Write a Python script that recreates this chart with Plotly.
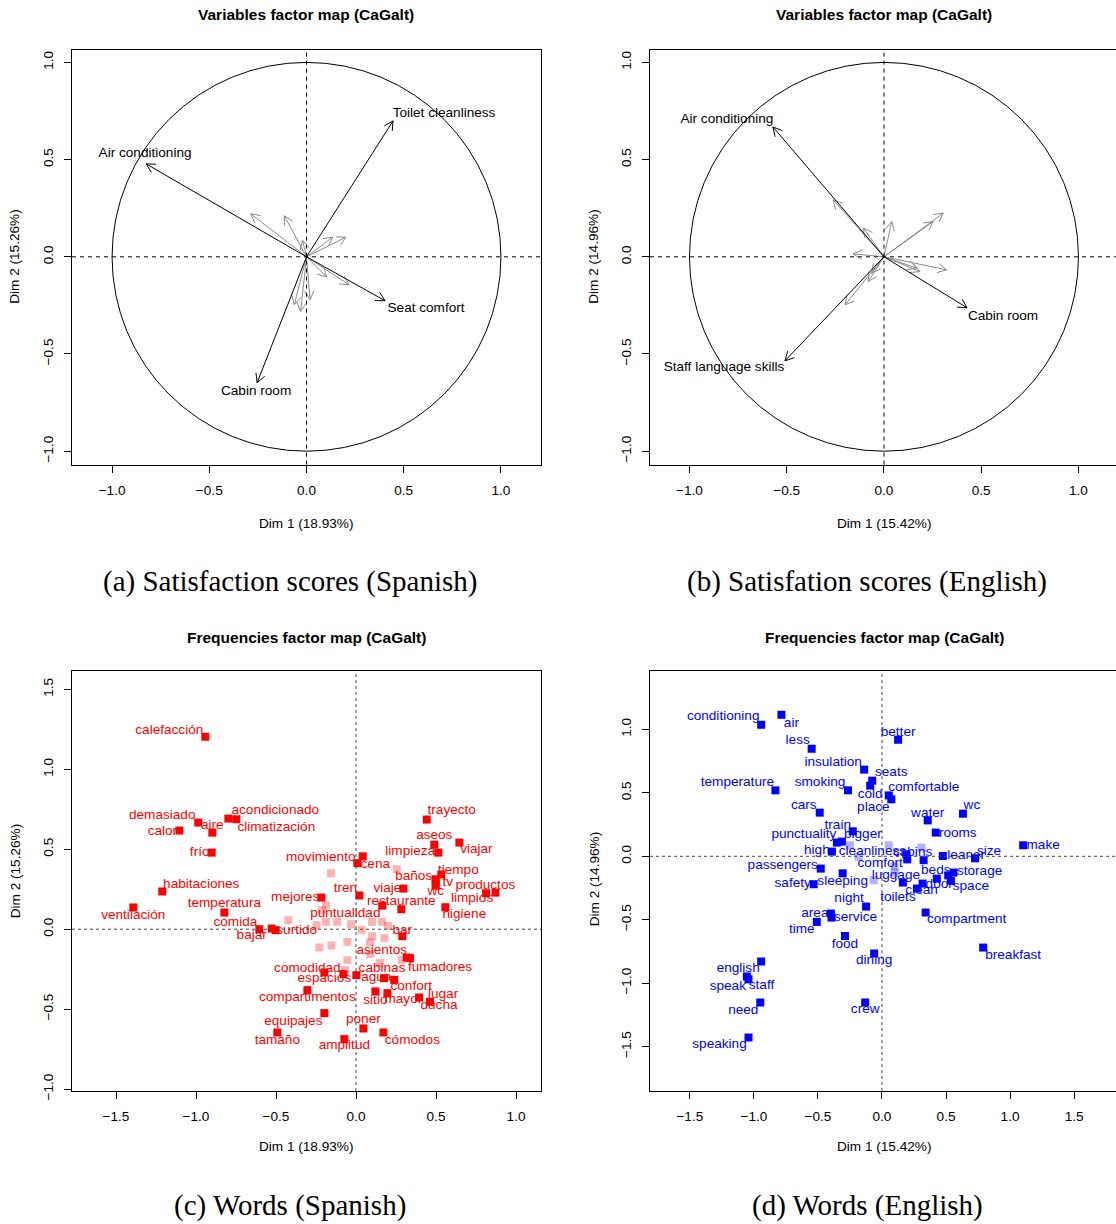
import math
import plotly.graph_objects as go

W, H = 1116, 1224
K = 0.9935  # observed vertical compression of the rendered page

# ---------------- Panel (a): Variables factor map, Spanish ----------------
a_main_labels = ["Air conditioning", "Toilet cleanliness", "Seat comfort", "Cabin room"]
a_main_x = [-0.825, 0.445, 0.404, -0.254]
a_main_y = [0.478, 0.699, -0.226, -0.648]
a_lab_dx = [-1, 51, 41, -1]
a_lab_dy = [10, 7, -8, -9]
a_minor_x = [-0.287, -0.114, -0.020, 0.135, 0.203, 0.104, 0.219, -0.063, -0.030, 0.018]
a_minor_y = [0.221, 0.211, 0.084, 0.101, 0.101, -0.104, -0.144, -0.247, -0.281, -0.221]

# ---------------- Panel (b): Variables factor map, English ----------------
b_main_labels = ["Air conditioning", "Cabin room", "Staff language skills"]
b_main_x = [-0.571, 0.427, -0.509]
b_main_y = [0.668, -0.262, -0.535]
b_lab_dx = [-46, 36, -61]
b_lab_dy = [7, -9, -7]
b_minor_x = [-0.261, -0.106, 0.040, 0.305, 0.253, -0.158, 0.322, 0.185, 0.168, -0.081, -0.200, -0.063]
b_minor_y = [0.293, 0.148, 0.181, 0.225, 0.181, 0.015, -0.067, -0.076, -0.058, -0.127, -0.247, -0.084]

# ---------------- Panel (c): Words, Spanish ----------------
c_words = ["calefacción", "demasiado", "calor", "aire", "acondicionado", "climatización", "frío",
           "habitaciones", "ventilación", "temperatura", "comida", "bajar", "surtido", "mejores",
           "movimiento", "cena", "tren", "puntualidad", "viaje", "restaurante", "bar", "trayecto",
           "aseos", "viajar", "limpieza", "baños", "tiempo", "tv", "wc", "productos", "limpios",
           "higiene", "asientos", "fumadores", "cabinas", "agua", "confort", "comodidad", "espacios",
           "compartimentos", "sitio", "mayor", "lugar", "ducha", "equipajes", "poner", "tamaño",
           "amplitud", "cómodos"]
c_x = [-0.942, -0.986, -1.104, -0.898, -0.798, -0.748, -0.902,
       -1.211, -1.392, -0.823, -0.604, -0.527, -0.502, -0.217,
       0.042, 0.008, 0.021, 0.283, 0.296, 0.164, 0.289, 0.442,
       0.489, 0.646, 0.514, 0.498, 0.533, 0.498, 0.498, 0.871, 0.8125,
       0.558, 0.317, 0.3375, 0.175, 0.002, 0.239, -0.198, -0.079,
       -0.304, 0.121, 0.196, 0.394, 0.4625, -0.198, 0.046, -0.492,
       -0.073, 0.171]
c_y = [1.204, 0.667, 0.617, 0.604, 0.692, 0.688, 0.479,
       0.236, 0.136, 0.104, 0.000, 0.004, -0.006, 0.198,
       0.456, 0.413, 0.211, 0.125, 0.254, 0.148, -0.044, 0.686,
       0.529, 0.542, 0.479, 0.3125, 0.342, 0.2875, 0.272, 0.229, 0.225,
       0.1375, -0.177, -0.181, -0.306, -0.2875, -0.317, -0.271, -0.281,
       -0.381, -0.389, -0.400, -0.427, -0.454, -0.525, -0.621, -0.646,
       -0.6875, -0.646]
c_lab_dx = [-36, -36, -17, 0, 47, 40, -12,
            39, 0, 0, -24, -20, 21, -26,
            -42, 18, -14, -56, -16, 19, 0, 25,
            0, 17, -28, -22, 17, 12, 0, -10, -14,
            19, -25, 30, -2, 20, 17, -17, -19,
            0, 0, 16, 24, 9, -31, 0, 0,
            0, 29]
c_lab_dy = [6, 7, -1, 7, 8, -8, 0,
            7, -8, 9, 7, -7, 0, 0,
            -1, -1, 7, -4, 0, 4, 6, 9,
            9, -7, 1, 3, 4, 1, -6, 7, -5,
            -7, 7, -9, 10, -2, -7, 4, -4,
            -8, -9, -6, 3, -4, -8, 9, -8,
            -7, -8]
c_faint_x = [-0.156, 0.254, -0.1875, -0.2125, -0.423, -0.246, -0.189, -0.117, -0.031, 0.036,
             0.100, 0.1625, 0.200, 0.100, 0.177, 0.0875, -0.229, -0.154, -0.054, -0.054,
             0.0875, 0.150, 0.286, -0.069]
c_faint_y = [0.350, 0.375, 0.150, 0.119, 0.056, 0.025, 0.046, 0.046, 0.031, -0.004,
             0.046, 0.046, 0.021, -0.044, -0.056, -0.083, -0.114, -0.102, -0.079, -0.194,
             -0.156, -0.2125, -0.192, -0.256]

# ---------------- Panel (d): Words, English ----------------
d_words = ["conditioning", "air", "less", "better", "insulation", "seats", "temperature", "smoking",
           "cold", "comfortable", "place", "cars", "water", "wc", "rooms", "train", "punctuality",
           "bigger", "high", "cleanliness", "cabins", "comfort", "cleaner", "size", "make",
           "passengers", "sleeping", "safety", "luggage", "beds", "storage", "door", "space",
           "clean", "toilets", "night", "area", "service", "time", "compartment", "food",
           "dining", "breakfast", "english", "speak", "staff", "need", "crew", "speaking"]
d_x = [-0.943, -0.785, -0.549, 0.126, -0.139, -0.076, -0.832, -0.265,
       -0.092, 0.053, 0.073, -0.486, 0.357, 0.632, 0.420, -0.228, -0.352,
       -0.313, -0.391, 0.191, 0.325, 0.197, 0.475, 0.727, 1.102,
       -0.478, -0.307, -0.533, 0.163, 0.428, 0.559, 0.517, 0.538,
       0.317, 0.273, -0.124, -0.399, -0.394, -0.509, 0.341, -0.289,
       -0.061, 0.790, -0.943, -1.055, -1.042, -0.950, -0.131, -1.042]
d_y = [1.037, 1.116, 0.848, 0.919, 0.683, 0.596, 0.520, 0.520,
       0.557, 0.480, 0.449, 0.344, 0.283, 0.336, 0.187, 0.197, 0.108,
       0.116, 0.037, 0.016, -0.031, -0.024, 0.002, -0.016, 0.087,
       -0.097, -0.134, -0.220, -0.207, -0.176, -0.128, -0.150, -0.194,
       -0.215, -0.254, -0.396, -0.451, -0.483, -0.517, -0.443, -0.628,
       -0.766, -0.719, -0.829, -0.947, -0.969, -1.152, -1.152, -1.428]
d_lab_dx = [-38, 10, -14, 0, -31, 19, -38, -28,
            0, 35, -18, -16, 0, 9, 22, -15, -33,
            21, -15, -34, -11, -27, 20, 14, 20,
            -38, 0, -21, -7, -1, 26, -9, 20,
            -1, -19, -17, -16, 24, -15, 41, 0,
            0, 30, -23, -19, 13, -17, 0, -29]
d_lab_dy = [8, -9, 8, 7, 7, 8, 8, 8,
            -9, 8, -8, 7, 7, 8, -1, 6, 8,
            7, 1, 3, 8, -4, 0, 7, 0,
            3, -8, 1, 7, 8, 1, -9, -6,
            -7, -9, 8, 0, 0, -8, -7, -9,
            -7, -8, -7, -10, -6, -8, -7, -7]
d_faint_x = [-0.250, -0.183, 0.053, 0.309, 0.098, -0.065, 0.100]
d_faint_y = [0.087, -0.004, 0.087, 0.069, -0.079, -0.189, -0.128]

# ---------------- Axis tick labels ----------------
ab_ticks = [-1.0, -0.5, 0.0, 0.5, 1.0]
ab_ticktext = ["\u22121.0", "\u22120.5", "0.0", "0.5", "1.0"]
c_xticks = [-1.5, -1.0, -0.5, 0.0, 0.5, 1.0]
c_xticktext = ["\u22121.5", "\u22121.0", "\u22120.5", "0.0", "0.5", "1.0"]
c_yticks = [-1.0, -0.5, 0.0, 0.5, 1.0, 1.5]
c_yticktext = ["\u22121.0", "\u22120.5", "0.0", "0.5", "1.0", "1.5"]
d_xticks = [-1.5, -1.0, -0.5, 0.0, 0.5, 1.0, 1.5]
d_xticktext = ["\u22121.5", "\u22121.0", "\u22120.5", "0.0", "0.5", "1.0", "1.5"]
d_yticks = [-1.5, -1.0, -0.5, 0.0, 0.5, 1.0]
d_yticktext = ["\u22121.5", "\u22121.0", "\u22120.5", "0.0", "0.5", "1.0"]

FONT = "Liberation Sans, Arial, Helvetica, sans-serif"
SERIF = "Liberation Serif, Times New Roman, serif"
TXT = 13.6

# panel geometry (pixels): left, right, top, bottom ; axis ranges ; right border visible
panels = {
    "a": dict(px=(72, 541, 50, 465), xr=(-1.206, 1.206), yr=(-1.069, 1.064), rb=True),
    "b": dict(px=(650, 1116, 50, 465), xr=(-1.203, 1.193), yr=(-1.069, 1.064), rb=False),
    "c": dict(px=(72, 541, 672, 1092), xr=(-1.775, 1.156), yr=(-1.0125, 1.6125), rb=True),
    "d": dict(px=(650, 1116, 672, 1092), xr=(-1.811, 1.827), yr=(-1.850, 1.457), rb=False),
}


def py2paper(py):
    return 1 - (py / K) / H


def ppu(p):
    l, r, t, b = panels[p]["px"]
    xr = panels[p]["xr"]
    return (r - l) / (xr[1] - xr[0])


fig = go.Figure()


def arrows(xs, ys, color, xa, ya, scale, width=1):
    L = 10.0 / scale
    ang = math.radians(28)
    X, Y = [], []
    for x, y in zip(xs, ys):
        n = math.hypot(x, y)
        ux, uy = x / n, y / n
        X += [0, x, None]
        Y += [0, y, None]
        for s in (1, -1):
            c, si = math.cos(s * ang), math.sin(s * ang)
            rx, ry = ux * c - uy * si, ux * si + uy * c
            X.append(x - L * rx)
            Y.append(y - L * ry)
            if s == 1:
                X.append(x)
                Y.append(y)
        X.append(None)
        Y.append(None)
    fig.add_trace(go.Scatter(x=X, y=Y, mode="lines", line=dict(color=color, width=width),
                             xaxis=xa, yaxis=ya, hoverinfo="skip", showlegend=False))


def labels(xs, ys, txt, dxs, dys, color, xa, ya, scale):
    fig.add_trace(go.Scatter(
        x=[x + dx / scale for x, dx in zip(xs, dxs)],
        y=[y + dy / scale for y, dy in zip(ys, dys)],
        text=txt, mode="text", textposition="middle center",
        textfont=dict(family=FONT, size=TXT, color=color),
        xaxis=xa, yaxis=ya, showlegend=False, cliponaxis=False, hoverinfo="skip"))


# Panel a
sa = ppu("a")
arrows(a_minor_x, a_minor_y, "#8a8a8a", "x", "y", sa)
arrows(a_main_x, a_main_y, "black", "x", "y", sa)
labels(a_main_x, a_main_y, a_main_labels, a_lab_dx, a_lab_dy, "black", "x", "y", sa)

# Panel b
sb = ppu("b")
arrows(b_minor_x, b_minor_y, "#8a8a8a", "x2", "y2", sb)
arrows(b_main_x, b_main_y, "black", "x2", "y2", sb)
labels(b_main_x, b_main_y, b_main_labels, b_lab_dx, b_lab_dy, "black", "x2", "y2", sb)

# Panel c
sc = ppu("c")
fig.add_trace(go.Scatter(x=c_faint_x, y=c_faint_y, mode="markers",
                         marker=dict(symbol="square", size=8, color="rgba(255,0,0,0.3)"),
                         xaxis="x3", yaxis="y3", showlegend=False))
labels(c_x, c_y, c_words, c_lab_dx, c_lab_dy, "#ff0000", "x3", "y3", sc)
fig.add_trace(go.Scatter(x=c_x, y=c_y, mode="markers",
                         marker=dict(symbol="square", size=8, color="#ff0000"),
                         xaxis="x3", yaxis="y3", showlegend=False))

# Panel d
sd = ppu("d")
fig.add_trace(go.Scatter(x=d_faint_x, y=d_faint_y, mode="markers",
                         marker=dict(symbol="square", size=8, color="rgba(0,0,255,0.3)"),
                         xaxis="x4", yaxis="y4", showlegend=False))
labels(d_x, d_y, d_words, d_lab_dx, d_lab_dy, "#0000ff", "x4", "y4", sd)
fig.add_trace(go.Scatter(x=d_x, y=d_y, mode="markers",
                         marker=dict(symbol="square", size=8, color="#0000ff"),
                         xaxis="x4", yaxis="y4", showlegend=False))


def axis(p, which, tickvals, ticktext, anchor):
    l, r, t, b = panels[p]["px"]
    mirror = True
    if which == "x":
        dom = [l / W, r / W]
        rng = list(panels[p]["xr"])
        ang = 0
    else:
        dom = [py2paper(b), py2paper(t)]
        rng = list(panels[p]["yr"])
        ang = -90
        mirror = panels[p]["rb"]
    return dict(domain=dom, range=rng, anchor=anchor, showline=True, mirror=mirror,
                linecolor="black", linewidth=1, ticks="outside", ticklen=7, tickwidth=1,
                tickcolor="black", tickvals=tickvals, ticktext=ticktext, tickangle=ang,
                tickfont=dict(family=FONT, size=TXT, color="black"), showgrid=False,
                zeroline=False, ticklabelstandoff=6, fixedrange=True)


layout = dict(
    width=W, height=H, autosize=False, margin=dict(l=0, r=0, t=0, b=0, pad=0),
    paper_bgcolor="white", plot_bgcolor="white", showlegend=False,
    xaxis=axis("a", "x", ab_ticks, ab_ticktext, "y"),
    yaxis=axis("a", "y", ab_ticks, ab_ticktext, "x"),
    xaxis2=axis("b", "x", ab_ticks, ab_ticktext, "y2"),
    yaxis2=axis("b", "y", ab_ticks, ab_ticktext, "x2"),
    xaxis3=axis("c", "x", c_xticks, c_xticktext, "y3"),
    yaxis3=axis("c", "y", c_yticks, c_yticktext, "x3"),
    xaxis4=axis("d", "x", d_xticks, d_xticktext, "y4"),
    yaxis4=axis("d", "y", d_yticks, d_yticktext, "x4"),
)
fig.update_layout(**layout)

shapes = []
for i, p in enumerate(["a", "b", "c", "d"]):
    sfx = "" if i == 0 else str(i + 1)
    col = "black" if p in "ab" else "#444444"
    dash = "4px,4px" if p in "ab" else "3px,3px"
    shapes.append(dict(type="line", xref="x" + sfx, yref="y" + sfx + " domain", x0=0, x1=0, y0=0, y1=1,
                       line=dict(color=col, width=1, dash=dash)))
    shapes.append(dict(type="line", xref="x" + sfx + " domain", yref="y" + sfx, x0=0, x1=1, y0=0, y1=0,
                       line=dict(color=col, width=1, dash=dash)))
for sfx in ["", "2"]:
    shapes.append(dict(type="circle", xref="x" + sfx, yref="y" + sfx, x0=-1, x1=1, y0=-1, y1=1,
                       line=dict(color="black", width=1)))
fig.update_layout(shapes=shapes)


def ann(text, px, py, size=TXT, bold=False, angle=0, family=FONT):
    fig.add_annotation(text=("<b>%s</b>" % text) if bold else text, x=px / W, y=py2paper(py),
                       xref="paper", yref="paper", showarrow=False, textangle=angle,
                       xanchor="center", yanchor="middle",
                       font=dict(family=family, size=size, color="black"))


titles = ["Variables factor map (CaGalt)", "Variables factor map (CaGalt)",
          "Frequencies factor map (CaGalt)", "Frequencies factor map (CaGalt)"]
xtitles = ["Dim 1 (18.93%)", "Dim 1 (15.42%)", "Dim 1 (18.93%)", "Dim 1 (15.42%)"]
ytitles = ["Dim 2 (15.26%)", "Dim 2 (14.96%)", "Dim 2 (15.26%)", "Dim 2 (14.96%)"]
captions = ["(a) Satisfaction scores (Spanish)", "(b) Satisfation scores (English)",
            "(c) Words (Spanish)", "(d) Words (English)"]

title_pos = [(306, 15), (884, 15), (306, 638), (884, 638)]
xt_pos = [(306, 524), (884, 524), (306, 1147), (884, 1147)]
yt_pos = [(15, 257), (594, 257), (15, 872), (594, 880)]
cap_pos = [(290, 582), (867, 582), (290, 1207), (867, 1207)]

for i in range(4):
    ann(titles[i], *title_pos[i], size=15.5, bold=True)
    ann(xtitles[i], *xt_pos[i])
    ann(ytitles[i], *yt_pos[i], angle=-90)
    ann(captions[i], *cap_pos[i], size=29, family=SERIF)

fig.write_html("out.html", config={"responsive": False})
